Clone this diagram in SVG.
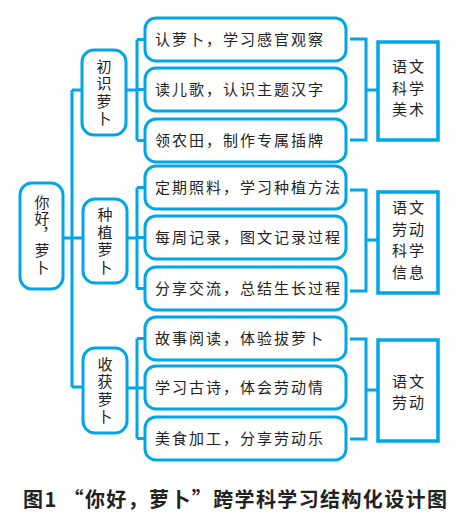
<svg xmlns="http://www.w3.org/2000/svg" width="467" height="520" viewBox="0 0 467 520">
<style>
.box{fill:#fff;stroke:#00a6e6;stroke-width:3}
.sub{fill:#fff;stroke:#00a6e6;stroke-width:3.5}
.ln{fill:none;stroke:#00a6e6;stroke-width:3}
.t{font-family:"Noto Sans CJK SC","Noto Sans",sans-serif;font-size:15px;fill:#222}
.lf{letter-spacing:2px}
.c{text-anchor:middle}
.v{writing-mode:vertical-rl;text-anchor:middle;letter-spacing:2.5px}
.cap{font-family:"Noto Sans CJK SC","Noto Sans",sans-serif;font-size:20px;font-weight:700;fill:#222}
</style>
<rect width="467" height="520" fill="#fff"/>
<g id="connectors">
<path class="ln" d="M63 238H72M72 90V387M72 90H82M72 238H83M72 387H83"/>
<path class="ln" d="M126 90H137M137 39.5V140.5M137 39.5H145M137 89.5H145M137 140.5H145"/>
<path class="ln" d="M127 238H137M137 187.5V288.5M137 187.5H145M137 237.5H145M137 288.5H145"/>
<path class="ln" d="M127 388H137M137 338.5V438.5M137 338.5H145M137 388H145M137 438.5H145"/>
<path class="ln" d="M350 39H366V140H350M366 90H378"/>
<path class="ln" d="M350 190H366V291H350M366 240H378"/>
<path class="ln" d="M350 339H366V439H350M366 390H378"/>
</g>
<g id="root">
<rect class="box" x="20" y="183" width="43" height="106" rx="12"/>
<text class="t v" x="42" y="235" style="letter-spacing:1.25px">你好，萝卜</text>
</g>
<g id="n1">
<rect class="box" x="82" y="50" width="44" height="85" rx="12"/>
<text class="t v" x="104" y="93.75">初识萝卜</text>
</g>
<g id="n2">
<rect class="box" x="83" y="199" width="44" height="84" rx="12"/>
<text class="t v" x="105" y="242.25">种植萝卜</text>
</g>
<g id="n3">
<rect class="box" x="83" y="348" width="44" height="85" rx="12"/>
<text class="t v" x="105" y="391.75">收获萝卜</text>
</g>
<g id="leaf1"><rect class="box" x="145" y="18" width="201" height="43" rx="11"/><text class="t lf" x="155" y="45">认萝卜，学习感官观察</text></g>
<g id="leaf2"><rect class="box" x="145" y="68" width="201" height="43" rx="11"/><text class="t lf" x="155" y="95">读儿歌，认识主题汉字</text></g>
<g id="leaf3"><rect class="box" x="145" y="119" width="201" height="43" rx="11"/><text class="t lf" x="155" y="146">领农田，制作专属插牌</text></g>
<g id="leaf4"><rect class="box" x="145" y="166" width="201" height="43" rx="11"/><text class="t lf" x="155" y="193">定期照料，学习种植方法</text></g>
<g id="leaf5"><rect class="box" x="145" y="216" width="201" height="43" rx="11"/><text class="t lf" x="155" y="243">每周记录，图文记录过程</text></g>
<g id="leaf6"><rect class="box" x="145" y="267" width="201" height="43" rx="11"/><text class="t lf" x="155" y="294">分享交流，总结生长过程</text></g>
<g id="leaf7"><rect class="box" x="145" y="317" width="201" height="43" rx="11"/><text class="t lf" x="155" y="344">故事阅读，体验拔萝卜</text></g>
<g id="leaf8"><rect class="box" x="145" y="366" width="201" height="43" rx="11"/><text class="t lf" x="155" y="393">学习古诗，体会劳动情</text></g>
<g id="leaf9"><rect class="box" x="145" y="417" width="201" height="43" rx="11"/><text class="t lf" x="155" y="444">美食加工，分享劳动乐</text></g>
<g id="subj1">
<rect class="sub" x="378" y="42" width="60" height="98"/>
<text class="t c lf" x="409" y="72">语文</text>
<text class="t c lf" x="409" y="94">科学</text>
<text class="t c lf" x="409" y="115">美术</text>
</g>
<g id="subj2">
<rect class="sub" x="378" y="192" width="60" height="101"/>
<text class="t c lf" x="409" y="213">语文</text>
<text class="t c lf" x="409" y="235">劳动</text>
<text class="t c lf" x="409" y="256">科学</text>
<text class="t c lf" x="409" y="278">信息</text>
</g>
<g id="subj3">
<rect class="sub" x="378" y="340" width="60" height="101"/>
<text class="t c lf" x="409" y="387">语文</text>
<text class="t c lf" x="409" y="408">劳动</text>
</g>
<g id="caption">
<text class="cap" x="23" y="507" textLength="424" lengthAdjust="spacing">图1 “你好，萝卜”跨学科学习结构化设计图</text>
</g>
</svg>
